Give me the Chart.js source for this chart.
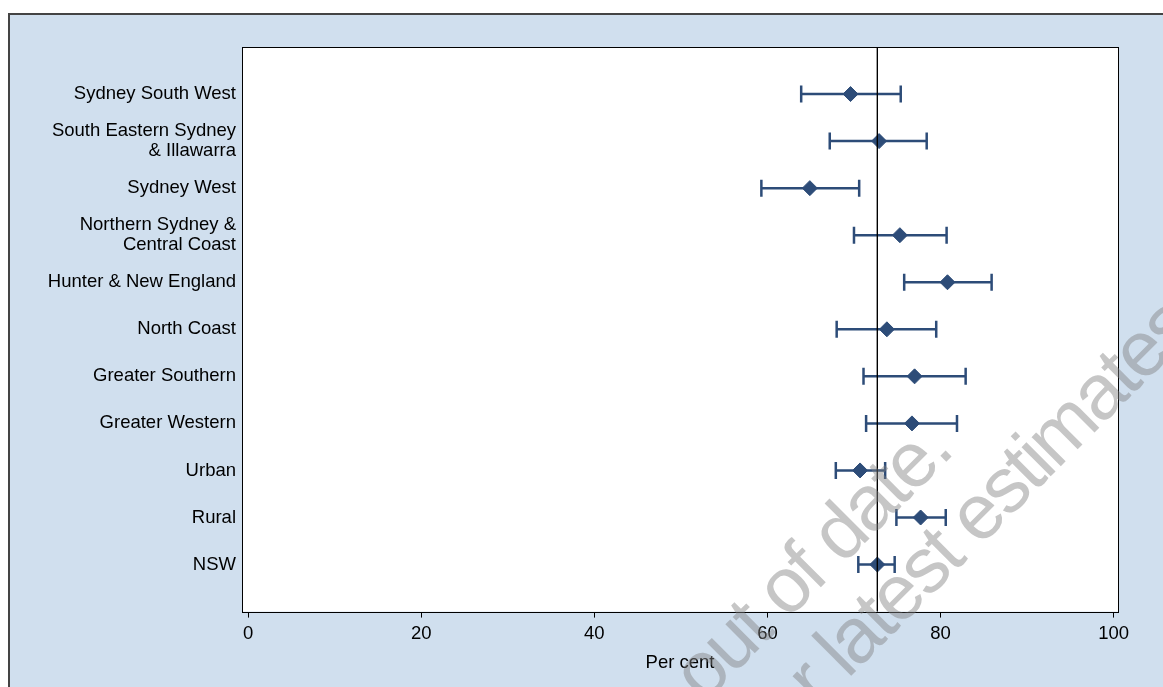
<!DOCTYPE html>
<html>
<head>
<meta charset="utf-8">
<script src="https://cdn.jsdelivr.net/npm/chart.js@4.4.0/dist/chart.umd.min.js"></script>
<style>
  html, body { margin: 0; padding: 0; background: #fff; }
  #wrap { width: 1163px; height: 687px; position: relative; }
</style>
</head>
<body>
<div id="wrap"><canvas id="test"></canvas></div>
<script>
// regions, top to bottom
const regions = [
    'Sydney South West',
    ['South Eastern Sydney', '& Illawarra'],
    'Sydney West',
    ['Northern Sydney &', 'Central Coast'],
    'Hunter & New England',
    'North Coast',
    'Greater Southern',
    'Greater Western',
    'Urban',
    'Rural',
    'NSW'
];
const estimate = [69.6, 72.9, 64.9, 75.3, 80.8, 73.8, 77.0, 76.7, 70.7, 77.7, 72.7];
const lower    = [63.9, 67.2, 59.3, 70.0, 75.8, 68.0, 71.1, 71.4, 67.9, 74.9, 70.5];
const upper    = [75.4, 78.4, 70.6, 80.7, 85.9, 79.5, 82.9, 81.9, 73.6, 80.6, 74.7];
const xTicks = [0, 20, 40, 60, 80, 100];

const nswValue = estimate[estimate.length - 1];
const markColor = '#2d4c78';
const panelBlue = '#d0dfee';
const fontFamily = "'Liberation Sans', Arial, sans-serif";

Chart.defaults.color = '#000';
Chart.defaults.font.family = fontFamily;

// error bars: lo-hi pairs split by null gaps
const barPoints = [];
regions.forEach((r, i) => {
    barPoints.push({x: lower[i], y: i + 1});
    barPoints.push({x: upper[i], y: i + 1});
    barPoints.push({x: lower[i], y: null});
});

const framePlugin = {
    id: 'frame',
    beforeDraw(chart) {
        const {ctx, chartArea: a, width, height} = chart;
        ctx.save();
        ctx.fillStyle = '#fff';
        ctx.fillRect(0, 0, width, height);
        ctx.fillStyle = panelBlue;
        ctx.fillRect(9, 14, width, height);
        ctx.strokeStyle = '#444';
        ctx.lineWidth = 2;
        ctx.beginPath();
        ctx.moveTo(9, height);
        ctx.lineTo(9, 14);
        ctx.lineTo(width, 14);
        ctx.stroke();
        ctx.fillStyle = '#fff';
        ctx.fillRect(a.left, a.top, a.right - a.left, a.bottom - a.top);
        ctx.restore();
    },
    beforeDatasetsDraw(chart) {
        const {ctx, chartArea: a} = chart;
        ctx.save();
        ctx.strokeStyle = '#000';
        ctx.lineWidth = 1;
        ctx.strokeRect(Math.round(a.left) + 0.5, Math.round(a.top) + 0.5,
            Math.round(a.right - a.left), Math.round(a.bottom - a.top));
        ctx.restore();
    },
    afterDraw(chart) {
        // faded "out of date" watermark across the lower right
        const ctx = chart.ctx;
        ctx.save();
        ctx.fillStyle = 'rgba(128,128,128,0.45)';
        ctx.font = '78px ' + fontFamily;
        ctx.letterSpacing = '-3px';
        [['out of date.', 704, 704], ['r latest estimates', 818, 709]].forEach(([t, x, y]) => {
            ctx.save();
            ctx.translate(x, y);
            ctx.rotate(-Math.PI / 4);
            ctx.fillText(t, 0, 0);
            ctx.restore();
        });
        ctx.restore();
    }
};

new Chart(
    document.getElementById('test'),
    {
        type: 'scatter',
        data: {
            datasets: [
                {
                    label: 'NSW',
                    data: [{x: nswValue, y: 0}, {x: nswValue, y: regions.length + 1}],
                    showLine: true,
                    borderColor: '#000',
                    borderWidth: 1,
                    pointRadius: 0,
                    order: 0,
                },
                {
                    label: 'Estimate',
                    data: estimate.map((v, i) => ({x: v, y: i + 1})),
                    pointStyle: 'rectRot',
                    pointRadius: 7.5,
                    backgroundColor: markColor,
                    borderColor: markColor,
                    borderWidth: 1,
                    order: 1,
                },
                {
                    label: '95% CI',
                    data: barPoints,
                    showLine: true,
                    spanGaps: false,
                    borderColor: markColor,
                    borderWidth: 2.5,
                    pointStyle: 'line',
                    rotation: 90,
                    pointRadius: 8.5,
                    pointBorderWidth: 2.5,
                    pointBorderColor: markColor,
                    order: 2,
                }
            ]
        },
        options: {
            responsive: true,
            maintainAspectRatio: false,
            animation: false,
            layout: {padding: {left: 0, top: 47, right: 45, bottom: 13}},
            plugins: {
                legend: {display: false},
                tooltip: {enabled: false},
            },
            scales: {
                x: {
                    type: 'linear',
                    min: -0.7,
                    max: 100.5,
                    afterBuildTicks: s => { s.ticks = xTicks.map(v => ({value: v})); },
                    grid: {drawOnChartArea: false, drawTicks: true, tickLength: 6, color: '#000'},
                    border: {display: false},
                    ticks: {font: {size: 18.5}, padding: 5, maxRotation: 0},
                    title: {display: true, text: 'Per cent', font: {size: 18.5}, padding: {top: 2, bottom: 0}},
                },
                y: {
                    type: 'linear',
                    min: 0,
                    max: regions.length + 1,
                    reverse: true,
                    afterFit: s => { s.width = 242; },
                    grid: {display: false, drawTicks: false},
                    border: {display: false},
                    ticks: {
                        stepSize: 1,
                        autoSkip: false,
                        padding: 6,
                        font: {size: 18.5, lineHeight: 1.07},
                        callback: v => (v >= 1 && v <= regions.length) ? regions[v - 1] : '',
                    },
                }
            }
        },
        plugins: [framePlugin]
    }
);
</script>
</body>
</html>
